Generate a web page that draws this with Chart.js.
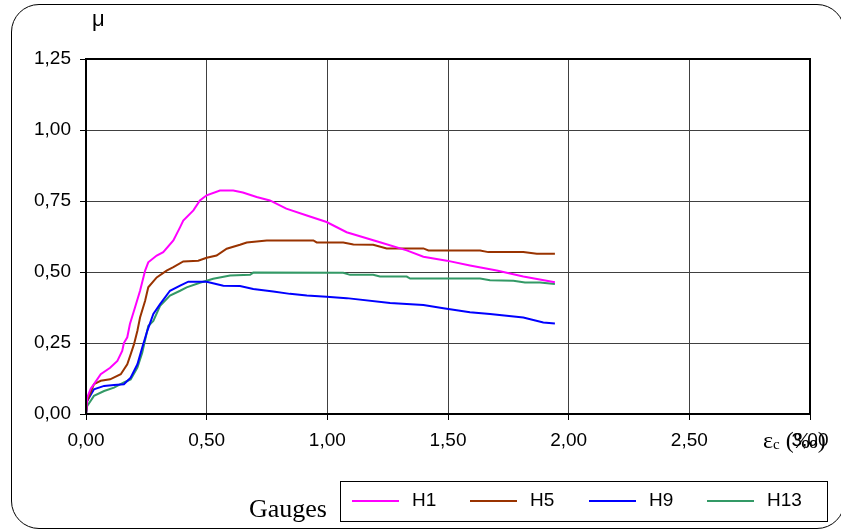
<!DOCTYPE html>
<html>
<head>
<meta charset="utf-8">
<script src="https://cdn.jsdelivr.net/npm/chart.js@4/dist/chart.umd.min.js"></script>
<style>
  html, body { margin: 0; padding: 0; background: #fff; }
  #wrap { position: relative; width: 841px; height: 531px; overflow: hidden; background: #fff; }
  #c { position: absolute; left: 0; top: 0; }
  #frame { position: absolute; left: 11px; top: 4px; width: 832px; height: 523px; border: 1.5px solid #000; border-radius: 28px; }
  .lbl { position: absolute; color: #000; white-space: nowrap; }
  #mu { left: 92px; top: 6px; font: 22px "Liberation Sans", Arial, sans-serif; }
  #eps { left: 763px; top: 427px; font: 24px "Liberation Serif", "Times New Roman", serif; }
  #eps sub { font-size: 15px; vertical-align: -1px; }
  #gauges { left: 249px; top: 494px; font: 26px "Liberation Serif", "Times New Roman", serif; }
  #legend { position: absolute; left: 340px; top: 481px; width: 486px; height: 39px; border: 1px solid #000; background: #fff; }
  .item { position: absolute; top: 0; height: 39px; }
  .item .ln { position: absolute; top: 18px; width: 47px; height: 2px; }
  .item .tx { position: absolute; left: 60px; top: 7px; font: 19px "Liberation Sans", Arial, sans-serif; }
</style>
</head>
<body>
<div id="wrap">
  <canvas id="c" width="841" height="531"></canvas>
  <div id="frame"></div>
  <div class="lbl" id="mu">μ</div>
  <div class="lbl" id="eps">ε<sub>c</sub> (‰)</div>
  <div class="lbl" id="gauges">Gauges</div>
  <div id="legend"></div>
</div>
<script>
// ---- data (strain εc in ‰, μ) ----
const seriesNames = ["H1", "H5", "H9", "H13"];
const seriesColors = ["#FF00FF", "#993300", "#0000FF", "#339966"];

const xH1 = [0, 0.005, 0.02, 0.033, 0.061, 0.10, 0.13, 0.15, 0.157, 0.171, 0.182, 0.203, 0.224, 0.245, 0.258, 0.293, 0.32, 0.362, 0.39, 0.403, 0.445, 0.472, 0.5, 0.555, 0.61, 0.65, 0.707, 0.762, 0.83, 0.915, 0.997, 1.08, 1.218, 1.329, 1.398, 1.495, 1.591, 1.702, 1.812, 1.943];
const yH1 = [0, 0.058, 0.09, 0.105, 0.14, 0.163, 0.187, 0.222, 0.25, 0.27, 0.317, 0.375, 0.434, 0.505, 0.534, 0.558, 0.57, 0.611, 0.658, 0.681, 0.717, 0.752, 0.77, 0.787, 0.787, 0.78, 0.764, 0.752, 0.723, 0.699, 0.676, 0.64, 0.605, 0.576, 0.554, 0.54, 0.523, 0.505, 0.484, 0.464];

const xH5 = [0, 0.005, 0.033, 0.061, 0.10, 0.144, 0.171, 0.185, 0.199, 0.213, 0.224, 0.245, 0.258, 0.293, 0.334, 0.362, 0.403, 0.465, 0.5, 0.541, 0.583, 0.638, 0.666, 0.749, 0.942, 0.956, 1.066, 1.108, 1.19, 1.246, 1.398, 1.419, 1.633, 1.667, 1.812, 1.868, 1.943];
const yH5 = [0, 0.046, 0.105, 0.117, 0.122, 0.14, 0.175, 0.21, 0.246, 0.293, 0.34, 0.399, 0.446, 0.481, 0.505, 0.517, 0.537, 0.54, 0.55, 0.558, 0.582, 0.596, 0.604, 0.611, 0.611, 0.604, 0.604, 0.597, 0.596, 0.583, 0.583, 0.576, 0.576, 0.57, 0.57, 0.564, 0.564];

const xH9 = [0, 0.005, 0.033, 0.075, 0.116, 0.157, 0.185, 0.213, 0.233, 0.254, 0.279, 0.307, 0.348, 0.39, 0.424, 0.472, 0.5, 0.569, 0.638, 0.693, 0.776, 0.845, 0.915, 0.997, 1.08, 1.26, 1.398, 1.481, 1.591, 1.674, 1.812, 1.895, 1.943];
const yH9 = [0, 0.046, 0.087, 0.099, 0.102, 0.105, 0.128, 0.175, 0.234, 0.293, 0.352, 0.387, 0.434, 0.452, 0.466, 0.466, 0.466, 0.452, 0.451, 0.44, 0.431, 0.423, 0.417, 0.413, 0.408, 0.391, 0.384, 0.372, 0.358, 0.352, 0.34, 0.322, 0.319];

const xH13 = [0, 0.005, 0.033, 0.075, 0.116, 0.157, 0.185, 0.213, 0.233, 0.258, 0.279, 0.307, 0.348, 0.39, 0.417, 0.472, 0.527, 0.597, 0.68, 0.693, 1.066, 1.094, 1.19, 1.218, 1.329, 1.343, 1.633, 1.674, 1.771, 1.819, 1.881, 1.943];
const yH13 = [0, 0.028, 0.064, 0.081, 0.093, 0.111, 0.122, 0.163, 0.216, 0.31, 0.328, 0.381, 0.417, 0.434, 0.446, 0.462, 0.476, 0.488, 0.49, 0.498, 0.497, 0.49, 0.49, 0.484, 0.484, 0.477, 0.477, 0.471, 0.469, 0.463, 0.463, 0.458];

const xTicks = [0, 0.5, 1, 1.5, 2, 2.5, 3];
const yTicks = [0, 0.25, 0.5, 0.75, 1, 1.25];

const xs = [xH1, xH5, xH9, xH13];
const ys = [yH1, yH5, yH9, yH13];

const fmt = v => v.toFixed(2).replace('.', ',');

const datasets = seriesNames.map((n, i) => ({
  label: n,
  data: xs[i].map((x, k) => ({ x: x, y: ys[i][k] })),
  borderColor: seriesColors[i],
  backgroundColor: seriesColors[i],
  borderWidth: 2,
  pointRadius: 0,
  tension: 0,
  fill: false
}));

const framePlugin = {
  id: 'frameBox',
  afterDraw(chart) {
    const a = chart.chartArea, ctx = chart.ctx;
    ctx.save();
    ctx.strokeStyle = '#000';
    ctx.lineWidth = 2;
    ctx.strokeRect(a.left, a.top, a.right - a.left, a.bottom - a.top);
    ctx.restore();
  }
};

const tickFont = { family: '"Liberation Sans", Arial, sans-serif', size: 19 };

new Chart(document.getElementById('c'), {
  type: 'line',
  data: { datasets },
  plugins: [framePlugin],
  options: {
    responsive: false,
    animation: false,
    parsing: true,
    layout: { padding: { left: 0, top: 59, right: 31, bottom: 0 } },
    plugins: { legend: { display: false }, tooltip: { enabled: false } },
    scales: {
      x: {
        type: 'linear', min: 0, max: 3,
        afterBuildTicks: s => { s.ticks = xTicks.map(v => ({ value: v })); },
        afterFit: s => { s.height = 117; },
        ticks: { callback: v => fmt(v), font: tickFont, color: '#000', padding: 9, maxRotation: 0, autoSkip: false },
        grid: { color: '#404040', lineWidth: 1, tickLength: 6, tickColor: '#000' },
        border: { color: '#000', width: 2 }
      },
      y: {
        type: 'linear', min: 0, max: 1.25,
        afterBuildTicks: s => { s.ticks = yTicks.map(v => ({ value: v })); },
        afterFit: s => { s.width = 86; },
        ticks: { callback: v => fmt(v), font: tickFont, color: '#000', padding: 9, autoSkip: false },
        grid: { color: '#404040', lineWidth: 1, tickLength: 6, tickColor: '#000' },
        border: { color: '#000', width: 2 }
      }
    }
  }
});

// HTML legend built from series
const legend = document.getElementById('legend');
const itemLeft = [11, 129, 248, 366];
seriesNames.forEach((n, i) => {
  const it = document.createElement('div');
  it.className = 'item';
  it.style.left = itemLeft[i] + 'px';
  it.innerHTML = '<div class="ln" style="background:' + seriesColors[i] + '"></div><div class="tx">' + n + '</div>';
  legend.appendChild(it);
});
</script>
</body>
</html>
